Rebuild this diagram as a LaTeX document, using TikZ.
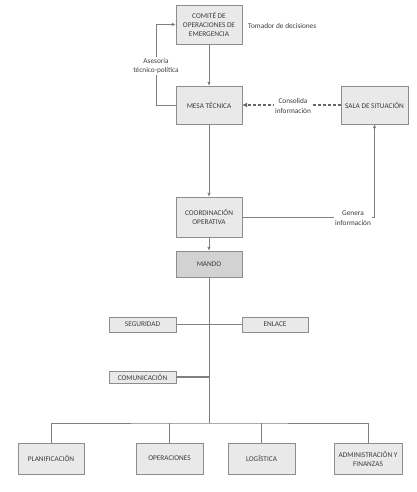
\documentclass[tikz,border=0pt]{standalone}
\usepackage{fontspec}
\setmainfont{Carlito}
\usetikzlibrary{arrows.meta,shadows}

\definecolor{linegray}{HTML}{808080}
\definecolor{boxgray}{HTML}{E9E9E9}
\definecolor{mandogray}{HTML}{D2D2D2}
\definecolor{textgray}{HTML}{3C3C3C}

\tikzset{
    unit/.style={draw=linegray!90, fill=boxgray, text=textgray, align=center,
        font=\fontsize{7.3}{9}\selectfont, inner sep=0.5pt,
        drop shadow={shadow xshift=0.8pt, shadow yshift=-0.8pt, opacity=0.35}},
    note/.style={text=textgray, align=center, font=\fontsize{7.3}{9.5}\selectfont, inner sep=1pt},
    link/.style={draw=linegray, line width=0.8pt},
    arr/.style={link, -{Latex[length=4pt, width=3.6pt]}},
    flow/.style={draw=linegray!80!black, line width=1.4pt, dash pattern=on 3pt off 2pt,
        -{Latex[length=5pt, width=5pt]}}
}

\begin{document}
\begin{tikzpicture}[x=1pt, y=-1pt]

    \useasboundingbox[fill=white] (0,0) rectangle (416,492);

    % ==========================================
    % 1. UPPER LEVEL
    % ==========================================
    \node[unit, minimum width=66pt, minimum height=39pt] (comite) at (209,24.5)
        {COMITÉ DE\\OPERACIONES DE\\EMERGENCIA};
    \node[note, anchor=west] (tomador) at (247,26) {Tomador de decisiones};

    \node[unit, minimum width=66pt, minimum height=38pt] (mesa) at (209,105) {MESA TÉCNICA};
    \node[unit, minimum width=67pt, minimum height=38pt] (sala) at (374.5,105) {SALA DE SITUACIÓN};

    \node[note] (asesoria) at (156,66) {Asesoría\\técnico-política};

    % Advice loop back to the committee
    \draw[link] (mesa.west) -| (asesoria.south);
    \draw[arr] (asesoria.north) |- (comite.west);
    \draw[arr] (comite) -- (mesa);

    % Dashed feed from the situation room
    \draw[flow] (sala.west) -- (mesa.east);
    \node[note, fill=white] (consolida) at (293,106) {Consolida\\información};

    % ==========================================
    % 2. COORDINATION AND COMMAND
    % ==========================================
    \node[unit, minimum width=66pt, minimum height=40pt] (coord) at (209,217)
        {COORDINACIÓN\\OPERATIVA};
    \node[unit, fill=mandogray, minimum width=66pt, minimum height=26pt] (mando) at (209,264) {MANDO};

    \draw[arr] (mesa) -- (coord);
    \draw[arr] (coord) -- (mando);
    \draw[arr] (coord.east) -| (sala.south);
    \node[note, fill=white] (genera) at (353,218) {Genera\\información};

    % ==========================================
    % 3. STAFF UNITS ON THE TRUNK
    % ==========================================
    \coordinate (bus) at (209,423);
    \draw[link] (mando.south) -- (bus);

    \node[unit, minimum width=67pt, minimum height=15pt] (seguridad) at (142.5,324.5) {SEGURIDAD};
    \node[unit, minimum width=66pt, minimum height=15pt] (enlace) at (275,324.5) {ENLACE};
    \node[unit, minimum width=67pt, minimum height=12pt] (comunicacion) at (142.5,377) {COMUNICACIÓN};

    \draw[draw=linegray, line width=0.5pt] (seguridad.east) -- (enlace.west);
    \draw[link, line width=1.2pt] (comunicacion.east) -- (comunicacion.east -| bus);

    % ==========================================
    % 4. SECTIONS
    % ==========================================
    \node[unit, minimum width=66pt, minimum height=31pt] (planif) at (51,458.5) {PLANIFICACIÓN};
    \node[unit, minimum width=67pt, minimum height=31pt] (operac) at (169.5,458.5) {OPERACIONES};
    \node[unit, minimum width=67pt, minimum height=31pt] (logist) at (261.5,458.5) {LOGÍSTICA};
    \node[unit, minimum width=68pt, minimum height=31pt] (admin) at (368,458.5)
        {ADMINISTRACIÓN Y\\FINANZAS};

    \draw[link] (planif.north) |- (bus) -| (admin.north);
    \foreach \sec in {operac, logist}
        \draw[link] (\sec.north) -- (\sec.north |- bus);

\end{tikzpicture}
\end{document}
